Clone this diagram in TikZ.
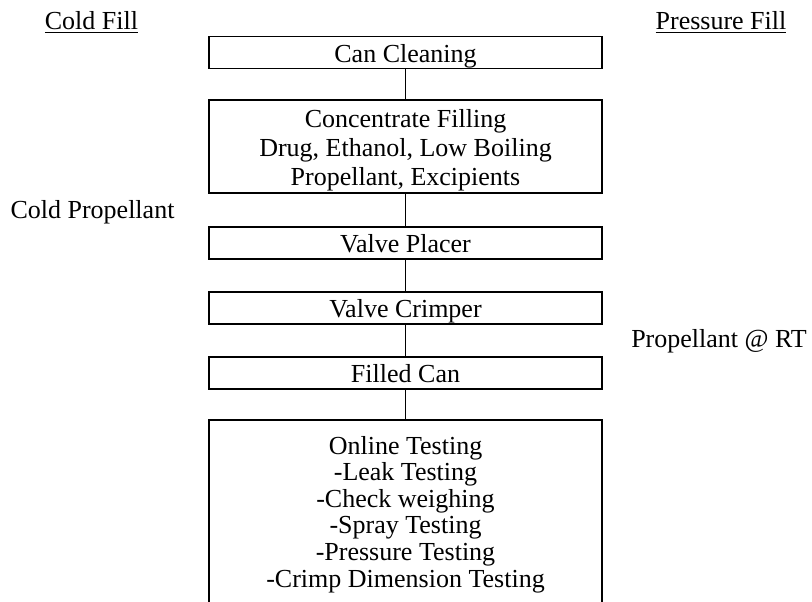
\documentclass[tikz,border=0pt]{standalone}
\usepackage{fontspec}
\setmainfont{Liberation Serif}
\usepackage{tikz}
\usetikzlibrary{positioning}

\begin{document}
\begin{tikzpicture}[
  x=0.5pt, y=-0.5pt,
  every node/.style={inner sep=0pt, font=\fontsize{13}{14.5}\selectfont},
  stepbox/.style={draw, line width=0.6pt, minimum width=196.5pt, minimum height=16pt,
                  text height=10.5pt, text depth=1pt},
  tallbox/.style={draw, line width=0.6pt, minimum width=196.5pt, align=center},
  side/.style={anchor=base},
  link/.style={line width=0.6pt}
]
\useasboundingbox (0,0) rectangle (812,601);
\clip (0,0) rectangle (812,601);

% Headings and side notes (x, y in pixels of the page)
\node[side] (coldfill)  at (91.5,29.5) {\underline{Cold Fill}};
\node[side] (pressfill) at (721,29.5)  {\underline{Pressure Fill}};
\node[side] (coldprop)  at (92.5,218)  {Cold Propellant};
\node[side] (propRT)    at (719,347)   {Propellant @ RT};

% Process steps
\node[stepbox] (cleaning) at (405.5,52.5) {Can Cleaning};
\node[tallbox, minimum height=46.5pt, text height=39.5pt, text depth=1pt] (conc) at (405.5,146.5)
  {Concentrate Filling\\Drug, Ethanol, Low Boiling\\Propellant, Excipients};
\node[stepbox] (placer)   at (405.5,243) {Valve Placer};
\node[stepbox] (crimper)  at (405.5,308) {Valve Crimper};
\node[stepbox] (filled)   at (405.5,373) {Filled Can};
\node[tallbox, font=\fontsize{13}{13.3}\selectfont, minimum height=94pt,
      text height=74pt, text depth=1pt] (testing) at (405.5,514)
  {Online Testing\\-Leak Testing\\-Check weighing\\-Spray Testing\\-Pressure Testing\\-Crimp Dimension Testing};

% Lines
\draw[link] (cleaning) -- (conc);
\draw[link] (conc) -- (placer);
\draw[link] (placer) -- (crimper);
\draw[link] (crimper) -- (filled);
\draw[link] (filled) -- (testing);
\end{tikzpicture}
\end{document}
